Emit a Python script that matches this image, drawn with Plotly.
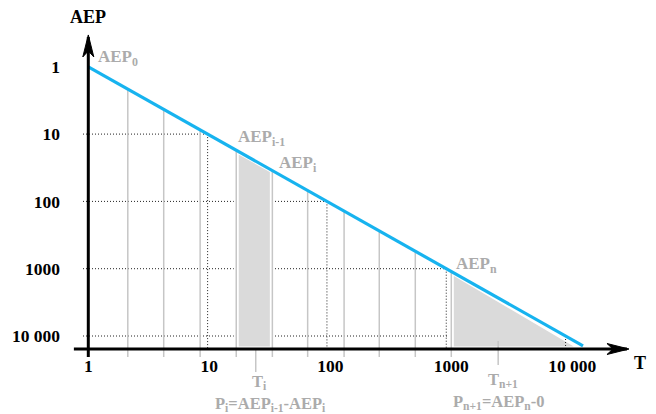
import numpy as np
import plotly.graph_objects as go

# ---------------- data ----------------
tick_vals = [1, 10, 100, 1000, 10000]
tick_text = ["1", "10", "100", "1000", "10 000"]

curve_T = [1, 12260]          # return period along the blue line
curve_AEP = [1, 14000]        # matching 1/AEP value

grid_T = [2.12, 4.2, 8.4, 16.7, 33.2, 65, 130, 254, 504, 1000]   # grey verticals
ref_levels = [10, 100, 1000, 10000]                             # dotted guides

Ti_T = 24.2       # T_i marker
Tn1_T = 2440      # T_{n+1} marker
i_prev, i_cur = 3, 4
n_idx = 9

# ---------------- geometry / style ----------------
FONT = "Liberation Serif"
BLUE = "#17b3ef"
GREY_LINE = "#c6c6c6"
GREY_FILL = "#dadada"
GREY_TXT = "#ababab"
OFF = 8            # page body margin in the browser

W, H = 656, 414
X0, XDEC = 88.3 - OFF, 121.0     # pixel of T=1, pixels per decade
Y0, YDEC = 66.8 - OFF, 67.3      # pixel of AEP=1, pixels per decade

axis_level = 15600      # y-value where the T axis is drawn
below_level = 20500     # grey lines extend a little under the axis
x_axis_ext = [0.76, 28300]
y_axis_ext = [20500, 0.36]
dot_start = 0.904

lt = np.log10(curve_T)
la = np.log10(curve_AEP)


def on_curve(t):
    return 10 ** np.interp(np.log10(t), lt, la)


def py(ref_y):
    return (H - (ref_y - OFF)) / H


def px(ref_x):
    return (ref_x - OFF) / W


fig = go.Figure()
DOT = dict(color="#222222", width=1, dash="1px,2px")

# dotted horizontal guides
for v in ref_levels:
    tv = 10 ** np.interp(np.log10(v), la, lt)
    fig.add_trace(go.Scatter(x=[dot_start, tv], y=[v, v], mode="lines",
                             line=DOT, hoverinfo="skip"))

# shaded areas
a, b = grid_T[i_prev], grid_T[i_cur]
fig.add_trace(go.Scatter(x=[a, a, b, b, a],
                         y=[axis_level, on_curve(a), on_curve(b), axis_level, axis_level],
                         mode="lines", fill="toself", fillcolor=GREY_FILL,
                         line=dict(color="white", width=5), hoverinfo="skip"))
c = grid_T[n_idx]
fig.add_trace(go.Scatter(x=[c, c, curve_T[-1], c],
                         y=[axis_level, on_curve(c), axis_level, axis_level],
                         mode="lines", fill="toself", fillcolor=GREY_FILL,
                         line=dict(color="white", width=5), hoverinfo="skip"))

# grey verticals
for t in grid_T:
    fig.add_trace(go.Scatter(x=[t, t], y=[below_level, on_curve(t)], mode="lines",
                             line=dict(color=GREY_LINE, width=1.5), hoverinfo="skip"))
fig.add_trace(go.Scatter(x=[Ti_T, Ti_T], y=[axis_level, 34300], mode="lines",
                         line=dict(color=GREY_LINE, width=1.5), hoverinfo="skip"))
fig.add_trace(go.Scatter(x=[Tn1_T, Tn1_T], y=[11870, 26900], mode="lines",
                         line=dict(color=GREY_LINE, width=1.5), hoverinfo="skip"))

# dotted vertical guides
for v in ref_levels:
    tv = 10 ** np.interp(np.log10(v), la, lt)
    fig.add_trace(go.Scatter(x=[tv, tv], y=[v, axis_level], mode="lines",
                             line=DOT, hoverinfo="skip"))

# blue line
fig.add_trace(go.Scatter(x=curve_T, y=curve_AEP, mode="lines",
                         line=dict(color=BLUE, width=3.2), hoverinfo="skip"))

# axes lines
fig.add_trace(go.Scatter(x=x_axis_ext, y=[axis_level, axis_level], mode="lines",
                         line=dict(color="black", width=3), hoverinfo="skip"))
fig.add_trace(go.Scatter(x=[1, 1], y=y_axis_ext, mode="lines",
                         line=dict(color="black", width=3), hoverinfo="skip"))

# arrow heads (pixel-sized shapes anchored at the axis tips)
fig.add_shape(type="path", xref="x", yref="y", xsizemode="pixel", ysizemode="pixel",
              xanchor=x_axis_ext[1], yanchor=axis_level,
              path="M2,0 L-20,5.5 L-14,0 L-20,-5.5 Z",
              fillcolor="black", line=dict(color="black", width=1))
fig.add_shape(type="path", xref="x", yref="y", xsizemode="pixel", ysizemode="pixel",
              xanchor=1, yanchor=y_axis_ext[1],
              path="M0,2 L5.5,-20 L0,-14 L-5.5,-20 Z",
              fillcolor="black", line=dict(color="black", width=1))

# ---------------- labels ----------------
gfont = dict(family=FONT, size=17, color=GREY_TXT, weight="bold")
lfont = dict(family=FONT, size=16.5, color=GREY_TXT, weight="bold")
tfont = dict(family=FONT, size=17.5, color="black", weight="bold")
bfont = dict(family=FONT, size=18, color="black", weight="bold")


def lab(text, t, v, xs, ys):
    fig.add_annotation(x=np.log10(t), y=np.log10(v), xref="x", yref="y", text=text,
                       showarrow=False, xanchor="left", yanchor="middle",
                       xshift=xs, yshift=ys, font=gfont)


lab("AEP<sub>0</sub>", curve_T[0], curve_AEP[0], 8, 9)
lab("AEP<sub>i-1</sub>", a, on_curve(a), 0, 12)
lab("AEP<sub>i</sub>", b, on_curve(b), 5, 7)
lab("AEP<sub>n</sub>", c, on_curve(c), 3, 7)


def low(text, t, ref_y, xs):
    fig.add_annotation(x=np.log10(t), y=py(ref_y), xref="x", yref="paper",
                       text=text, showarrow=False, xanchor="center", yanchor="middle",
                       xshift=xs, font=lfont)


low("T<sub>i</sub>", Ti_T, 382, 4)
low("P<sub>i</sub>=AEP<sub>i-1</sub>-AEP<sub>i</sub>", Ti_T, 403.5, 15)
low("T<sub>n+1</sub>", Tn1_T, 380, 5)
low("P<sub>n+1</sub>=AEP<sub>n</sub>-0", Tn1_T, 401.5, 0)

fig.add_annotation(x=0, y=py(17), xref="x", yref="paper", text="AEP",
                   showarrow=False, xanchor="center", yanchor="middle", font=bfont)
fig.add_annotation(x=px(640), y=py(363), xref="paper", yref="paper",
                   text="T", showarrow=False, xanchor="center", yanchor="middle",
                   font=bfont)

fig.update_layout(
    width=W, height=H, margin=dict(l=0, r=0, t=0, b=0),
    paper_bgcolor="white", plot_bgcolor="white", showlegend=False,
    xaxis=dict(type="log", range=[-X0 / XDEC, (W - X0) / XDEC], anchor="free",
               position=(H - 345) / H, showgrid=False, zeroline=False,
               showline=False, ticks="", tickvals=tick_vals, ticktext=tick_text,
               tickfont=tfont, automargin=False),
    yaxis=dict(type="log", range=[(H - Y0) / YDEC, -Y0 / YDEC], anchor="free",
               position=52 / W, showgrid=False, zeroline=False, showline=False,
               ticks="", tickvals=tick_vals, ticktext=tick_text, tickfont=tfont,
               automargin=False),
)

fig.write_html("out.html")
